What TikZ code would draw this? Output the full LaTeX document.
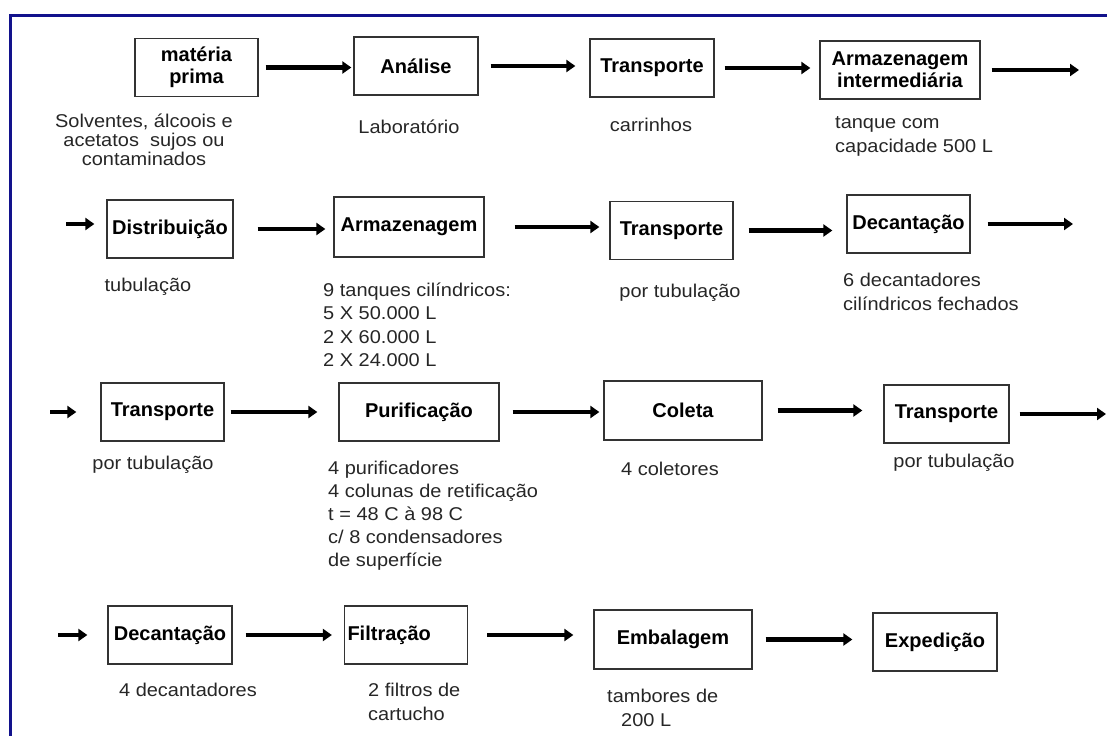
\documentclass[tikz,border=0pt]{standalone}
\usepackage{fontspec}
\setmainfont{Liberation Sans}[FakeStretch=1.08]
\newfontfamily\stagefont{Liberation Sans}[FakeStretch=1.0]
\usepackage{tikz}
\usetikzlibrary{arrows.meta}
\definecolor{framenavy}{RGB}{18,18,140}

\begin{document}
\begin{tikzpicture}[x=1pt,y=-1pt]
		\useasboundingbox (0,0) rectangle (1107,736);
		\tikzstyle{stage}=[draw=black!80,line width=1.3pt,inner sep=2pt,align=center,font=\stagefont\bfseries\fontsize{20}{22}\selectfont,minimum height=58pt]
		\tikzstyle{note}=[inner sep=0pt,text=black!85,font=\fontsize{18.5}{23.5}\selectfont]
		\tikzstyle{flow}=[line width=4.5pt,-{Triangle[length=9pt,width=12pt]}]
		\draw[framenavy,line width=3pt] (1107,15) -- (10,15) -- (10,736);
		% first row
		\node[stage,minimum width=123pt] (raw) at (196.5,67.5) {matéria\\prima};
		\node[stage,minimum width=124pt] (test) at (416,66) {Análise};
		\node[stage,minimum width=124pt] (cart) at (652,68) {Transporte};
		\node[stage,minimum width=160pt] (buffer) at (900,70) {Armazenagem\\intermediária};
		\node[note,align=center,font=\fontsize{18.5}{19}\selectfont] (rawnote) at (144,140) {Solventes, álcoois e\\acetatos\ \ sujos ou\hspace*{14pt}\\contaminados};
		\node[note] (testnote) at (409,127) {Laboratório};
		\node[note] (cartnote) at (651,125) {carrinhos};
		\node[note,anchor=west,align=left] (buffernote) at (835,136.5) {tanque com\\capacidade 500 L};
		\coordinate (out1) at (1079,72);
		\draw[flow,shorten <=7pt,shorten >=2pt] (raw) -- (raw -| test.west);
		\draw[flow,shorten <=12pt,shorten >=14pt] (test) -- (test -| cart.west);
		\draw[flow,shorten <=10pt,shorten >=9pt] (cart) -- (cart -| buffer.west);
		\draw[flow,shorten <=11pt] (buffer) -- (buffer -| out1);
		% second row
		\node[stage,minimum width=126pt] (dist) at (170,229) {Distribuição};
		\node[stage,minimum width=150pt,minimum height=60pt] (store) at (409,227) {Armazenagem};
		\node[stage,minimum width=123pt] (pipe) at (671.5,230.5) {Transporte};
		\node[stage,minimum width=123pt] (settle) at (908.5,224) {Decantação};
		\node[note] (distnote) at (148,287) {tubulação};
		\node[note,anchor=west,align=left] (storenote) at (323,325) {9 tanques cilíndricos:\\5 X 50.000 L\\2 X 60.000 L\\2 X 24.000 L};
		\node[note] (pipenote) at (680,293) {por tubulação};
		\node[note,anchor=west,align=left] (settlenote) at (843,292) {6 decantadores\\cilíndricos fechados};
		\coordinate (in2) at (66,224);
		\coordinate (out2) at (1073,222);
		\draw[flow,shorten >=12pt] (in2) -- (in2 -| dist.west);
		\draw[flow,shorten <=24pt,shorten >=8pt] (dist) -- (dist -| store.west);
		\draw[flow,shorten <=30pt,shorten >=10pt] (store) -- (store -| pipe.west);
		\draw[flow,shorten <=15pt,shorten >=14pt] (pipe) -- (pipe -| settle.west);
		\draw[flow,shorten <=17pt] (settle) -- (settle -| out2);
		% third row
		\node[stage,minimum width=123pt] (pipe2) at (162.5,412) {Transporte};
		\node[stage,minimum width=160pt] (purif) at (419,412) {Purificação};
		\node[stage,minimum width=158pt,minimum height=59pt] (collect) at (683,410.5) {Coleta};
		\node[stage,minimum width=125pt] (pipe3) at (946.5,414) {Transporte};
		\node[note] (pipe2note) at (153,465) {por tubulação};
		\node[note,anchor=west,align=left,font=\fontsize{18.5}{23}\selectfont] (purifnote) at (328,516) {4 purificadores\\4 colunas de retificação\\t = 48 C à 98 C\\c/ 8 condensadores\\de superfície};
		\node[note] (collectnote) at (670,469) {4 coletores};
		\node[note] (pipe3note) at (954,463) {por tubulação};
		\coordinate (in3) at (50,412);
		\coordinate (out3) at (1106,414);
		\draw[flow,shorten >=24pt] (in3) -- (in3 -| pipe2.west);
		\draw[flow,shorten <=6pt,shorten >=21pt] (pipe2) -- (pipe2 -| purif.west);
		\draw[flow,shorten <=13pt,shorten >=4pt] (purif) -- (purif -| collect.west);
		\draw[flow,shorten <=15pt,shorten >=21pt] (collect) -- (collect -| pipe3.west);
		\draw[flow,shorten <=10pt] (pipe3) -- (pipe3 -| out3);
		% fourth row
		\node[stage,minimum width=124pt] (settle2) at (170,635) {Decantação};
		\node[stage,text width=117pt,align=left,inner xsep=3pt] (filter) at (406,635) {Filtração};
		\node[stage,minimum width=158pt,minimum height=59pt] (pack) at (673,639.5) {Embalagem};
		\node[stage,minimum width=124pt] (ship) at (935,642) {Expedição};
		\node[note] (settle2note) at (188,690) {4 decantadores};
		\node[note,anchor=west,align=left] (filternote) at (368,702) {2 filtros de\\cartucho};
		\node[note,anchor=west,align=left] (packnote) at (607,708) {tambores de\\\hspace*{14pt}200 L};
		\coordinate (in4) at (58,635);
		\draw[flow,shorten >=20pt] (in4) -- (in4 -| settle2.west);
		\draw[flow,shorten <=13pt,shorten >=12pt] (settle2) -- (settle2 -| filter.west);
		\draw[flow,shorten <=19pt,shorten >=20pt] (filter) -- (filter -| pack.west);
		\draw[flow,shorten <=13pt,shorten >=20pt] (pack) -- (pack -| ship.west);
		\end{tikzpicture}
\end{document}
